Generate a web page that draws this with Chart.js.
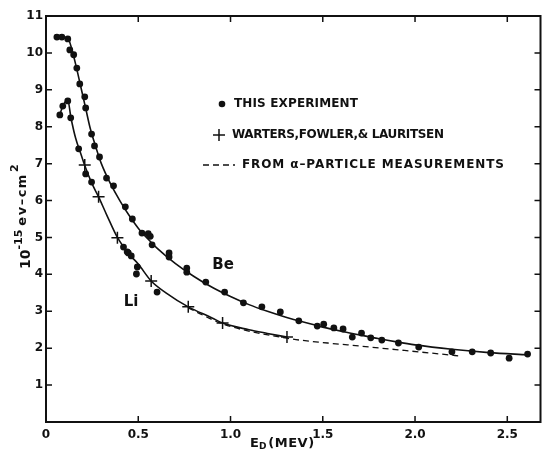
<!DOCTYPE html>
<html>
<head>
<meta charset="utf-8">
<script src="https://cdn.jsdelivr.net/npm/chart.js@4.4.0/dist/chart.umd.min.js"></script>
<style>
html,body{margin:0;padding:0;background:#fff;}
#wrap{width:548px;height:452px;position:relative;}
</style>
</head>
<body>
<div id="wrap"><canvas id="c" width="548" height="452"></canvas></div>
<script>
// ---- data ----
const beDotsX = [0.059,0.086,0.118,0.129,0.150,0.167,0.183,0.210,0.215,0.247,0.263,0.290,0.328,0.366,0.430,0.468,0.520,0.554,0.565,0.575,0.667,0.667,0.763,0.763,0.866,0.968,1.07,1.17,1.27,1.37,1.47,1.505,1.56,1.61,1.66,1.71,1.76,1.82,1.91,2.02,2.20,2.31,2.41,2.51,2.61];
const beDotsY = [10.43,10.43,10.38,10.08,9.95,9.59,9.16,8.81,8.51,7.80,7.48,7.18,6.61,6.40,5.83,5.50,5.12,5.10,5.03,4.80,4.58,4.47,4.17,4.06,3.79,3.52,3.23,3.12,2.98,2.74,2.60,2.65,2.55,2.52,2.30,2.41,2.28,2.22,2.14,2.03,1.90,1.90,1.87,1.73,1.84];
const liDotsX = [0.075,0.091,0.118,0.134,0.177,0.215,0.247,0.420,0.440,0.446,0.462,0.495,0.490,0.602];
const liDotsY = [8.32,8.56,8.70,8.24,7.40,6.72,6.50,4.74,4.61,4.58,4.50,4.20,4.01,3.52];
const wflX = [0.210,0.285,0.387,0.570,0.771,0.957,1.306];
const wflY = [6.96,6.10,4.99,3.82,3.12,2.68,2.30];
// curves
const beCurveX = [0.06,0.118,0.14,0.165,0.19,0.215,0.24,0.27,0.30,0.35,0.40,0.45,0.50,0.55,0.60,0.70,0.80,0.90,1.00,1.10,1.20,1.30,1.40,1.50,1.60,1.70,1.80,1.90,2.00,2.20,2.40,2.61];
const beCurveY = [10.43,10.40,10.10,9.60,9.05,8.50,7.95,7.45,7.00,6.45,6.00,5.60,5.25,4.97,4.72,4.30,3.95,3.65,3.40,3.18,3.00,2.84,2.70,2.57,2.46,2.36,2.26,2.17,2.09,1.97,1.88,1.82];
const liCurveX = [0.075,0.09,0.118,0.135,0.16,0.19,0.21,0.25,0.285,0.33,0.387,0.45,0.50,0.57,0.65,0.771,0.90,0.957,1.10,1.20,1.306];
const liCurveY = [8.32,8.55,8.72,8.25,7.70,7.25,6.95,6.45,6.10,5.60,5.00,4.55,4.28,3.82,3.50,3.12,2.82,2.68,2.50,2.40,2.30];
const alphaX = [0.771,0.957,1.306,1.526,1.634,2.02,2.24];
const alphaY = [3.09,2.66,2.27,2.14,2.09,1.90,1.79];
const xTicks = [0,0.5,1.0,1.5,2.0,2.5];
const yTicks = [1,2,3,4,5,6,7,8,9,10,11];
const legendTexts = ['THIS EXPERIMENT','WARTERS,FOWLER,& LAURITSEN','FROM \u03b1\u2013PARTICLE MEASUREMENTS'];
const xMax = 2.68, yMax = 11;

const pts = (xs, ys) => xs.map((x,i)=>({x:x,y:ys[i]}));
const INK = '#111';
const FONT = '"DejaVu Sans", sans-serif';

function fitText(ctx, txt, x, y, w){
  const n = txt.length;
  ctx.letterSpacing = '0px';
  const w0 = ctx.measureText(txt).width;
  ctx.letterSpacing = ((w - w0)/(n-1)).toFixed(2)+'px';
  ctx.fillText(txt, x, y);
  ctx.letterSpacing = '0px';
}

const annot = {
  id:'annot',
  afterDraw(chart){
    const ctx = chart.ctx, a = chart.chartArea;
    const xs = chart.scales.x, ys = chart.scales.y;
    ctx.save();
    ctx.strokeStyle = INK; ctx.fillStyle = INK;
    // frame
    ctx.lineWidth = 2;
    ctx.strokeRect(a.left, a.top, a.right-a.left, a.bottom-a.top);
    // inward ticks
    ctx.lineWidth = 1.5;
    ctx.beginPath();
    yTicks.forEach(v=>{
      const p = ys.getPixelForValue(v);
      ctx.moveTo(a.left, p); ctx.lineTo(a.left+6, p);
      ctx.moveTo(a.right, p); ctx.lineTo(a.right-6, p);
    });
    xTicks.forEach(v=>{
      const p = xs.getPixelForValue(v);
      ctx.moveTo(p, a.bottom); ctx.lineTo(p, a.bottom-6);
      ctx.moveTo(p, a.top); ctx.lineTo(p, a.top+6);
    });
    ctx.stroke();
    // legend
    ctx.font = 'bold 12px '+FONT;
    ctx.textBaseline = 'middle'; ctx.textAlign = 'left';
    ctx.beginPath(); ctx.arc(222,104,3.3,0,Math.PI*2); ctx.fill();
    fitText(ctx, legendTexts[0], 234, 104, 124);
    ctx.lineWidth = 1.5;
    ctx.beginPath(); ctx.moveTo(213,135); ctx.lineTo(225,135); ctx.moveTo(219,129); ctx.lineTo(219,141); ctx.stroke();
    fitText(ctx, legendTexts[1], 232, 135, 212);
    ctx.setLineDash([6,4]); ctx.lineWidth = 1.3;
    ctx.beginPath(); ctx.moveTo(203,165); ctx.lineTo(235,165); ctx.stroke();
    ctx.setLineDash([]);
    fitText(ctx, legendTexts[2], 242, 165, 262);
    // curve labels
    ctx.font = 'bold 15px '+FONT;
    ctx.textAlign = 'center';
    ctx.fillText('Be', 223, 265);
    ctx.fillText('Li', 131, 302);
    // x title
    ctx.textAlign = 'left'; ctx.textBaseline = 'alphabetic';
    ctx.font = 'bold 13px '+FONT;
    let x0 = 250; const yb = 447;
    ctx.fillText('E', x0, yb); x0 += ctx.measureText('E').width;
    ctx.font = 'bold 9px '+FONT;
    ctx.fillText('D', x0, yb+2); x0 += ctx.measureText('D').width + 2;
    ctx.font = 'bold 13px '+FONT;
    ctx.letterSpacing = '0.5px';
    ctx.fillText('(MEV)', x0, yb);
    ctx.letterSpacing = '0px';
    // y title (rotated)
    ctx.translate(30, 269);
    ctx.rotate(-Math.PI/2);
    let t = 0;
    ctx.font = 'bold 14px '+FONT;
    ctx.fillText('10', t, 0); t += ctx.measureText('10').width;
    ctx.font = 'bold 11px '+FONT;
    ctx.fillText('-15', t, -8); t += ctx.measureText('-15').width + 4;
    ctx.font = 'bold 13px '+FONT;
    ctx.letterSpacing = '1.5px';
    ctx.fillText('ev\u2013cm', t, -4); t += ctx.measureText('ev\u2013cm').width + 1;
    ctx.letterSpacing = '0px';
    ctx.font = 'bold 11px '+FONT;
    ctx.fillText('2', t, -12);
    ctx.restore();
  }
};

new Chart(document.getElementById('c'), {
  type:'scatter',
  data:{datasets:[
    {data:pts(beCurveX,beCurveY), showLine:true, borderColor:INK, borderWidth:1.6, pointRadius:0, cubicInterpolationMode:'monotone'},
    {data:pts(liCurveX,liCurveY), showLine:true, borderColor:INK, borderWidth:1.6, pointRadius:0, cubicInterpolationMode:'monotone'},
    {data:pts(alphaX,alphaY), showLine:true, borderColor:INK, borderWidth:1.3, borderDash:[6,4], pointRadius:0, cubicInterpolationMode:'monotone'},
    {data:pts(beDotsX,beDotsY), pointRadius:3.4, pointBackgroundColor:INK, pointBorderWidth:0, showLine:false},
    {data:pts(liDotsX,liDotsY), pointRadius:3.4, pointBackgroundColor:INK, pointBorderWidth:0, showLine:false},
    {data:pts(wflX,wflY), pointStyle:'cross', pointRadius:6, pointBorderColor:INK, pointBorderWidth:1.5, showLine:false}
  ]},
  options:{
    responsive:false, animation:false, devicePixelRatio:1,
    layout:{padding:{top:16,right:3,left:0,bottom:0}},
    plugins:{legend:{display:false}, tooltip:{enabled:false}},
    scales:{
      x:{type:'linear', min:0, max:xMax,
        grid:{display:false, drawTicks:false}, border:{display:false},
        afterBuildTicks:(s)=>{ s.ticks = xTicks.map(v=>({value:v})); },
        afterFit:(s)=>{ s.height = 30; },
        ticks:{padding:6, color:INK, font:{family:'DejaVu Sans', size:12, weight:'bold'},
          maxRotation:0, callback:(v)=> v===0 ? '0' : Number(v).toFixed(1)}},
      y:{type:'linear', min:0, max:yMax,
        grid:{display:false, drawTicks:false}, border:{display:false},
        afterBuildTicks:(s)=>{ s.ticks = yTicks.map(v=>({value:v})); },
        afterFit:(s)=>{ s.width = 46; },
        ticks:{padding:3, color:INK, font:{family:'DejaVu Sans', size:12, weight:'bold'}}}
    }
  },
  plugins:[annot]
});
</script>
</body>
</html>
